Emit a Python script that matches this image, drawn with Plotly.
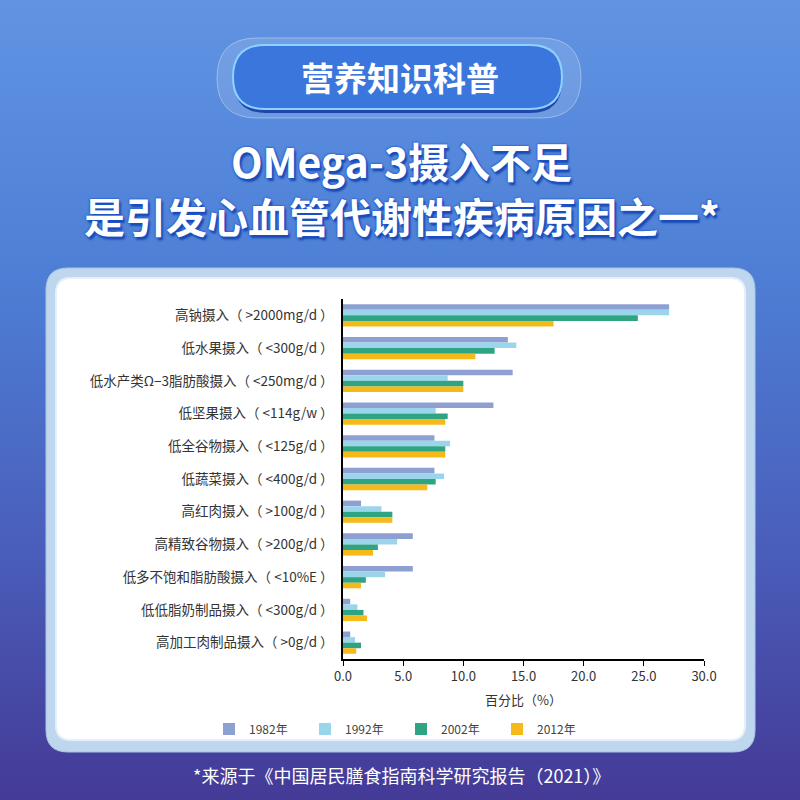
import plotly.graph_objects as go

# ---------------- data ----------------
categories = [
    "高钠摄入（ >2000mg/d ）",
    "低水果摄入（ <300g/d ）",
    "低水产类Ω−3脂肪酸摄入（ <250mg/d ）",
    "低坚果摄入（ <114g/w ）",
    "低全谷物摄入（ <125g/d ）",
    "低蔬菜摄入（ <400g/d ）",
    "高红肉摄入（ >100g/d ）",
    "高精致谷物摄入（ >200g/d ）",
    "低多不饱和脂肪酸摄入（ <10%E ）",
    "低低脂奶制品摄入（ <300g/d ）",
    "高加工肉制品摄入（ >0g/d ）",
]
series_names = ["1982年", "1992年", "2002年", "2012年"]
values_1982 = [27.1, 13.7, 14.1, 12.5, 7.6, 7.6, 1.5, 5.8, 5.8, 0.6, 0.6]
values_1992 = [27.1, 14.4, 8.7, 7.7, 8.9, 8.4, 3.2, 4.5, 3.5, 1.2, 1.0]
values_2002 = [24.5, 12.6, 10.0, 8.7, 8.5, 7.7, 4.1, 2.9, 1.9, 1.7, 1.5]
values_2012 = [17.5, 11.0, 10.0, 8.5, 8.5, 7.0, 4.1, 2.5, 1.5, 2.0, 1.1]
series_values = [values_1982, values_1992, values_2002, values_2012]
series_colors = ["#8EA0D2", "#9BD5EB", "#2EA483", "#F5B919"]
x_ticks = [0, 5, 10, 15, 20, 25, 30]

title_badge = "营养知识科普"
headline_1 = "OMega-3摄入不足"
headline_2 = "是引发心血管代谢性疾病原因之一*"
x_title = "百分比（%）"
footer = "*来源于《中国居民膳食指南科学研究报告（2021）》"

FONT = "Noto Sans CJK SC"
W = H = 800


def px_x(x):
    return x / W


def px_y(y):
    return 1 - y / H


def rrect(x0, y0, x1, y1, r):
    pts = [
        ("M", [(x0 + r, y0)]),
        ("L", [(x1 - r, y0)]),
        ("Q", [(x1, y0), (x1, y0 + r)]),
        ("L", [(x1, y1 - r)]),
        ("Q", [(x1, y1), (x1 - r, y1)]),
        ("L", [(x0 + r, y1)]),
        ("Q", [(x0, y1), (x0, y1 - r)]),
        ("L", [(x0, y0 + r)]),
        ("Q", [(x0, y0), (x0 + r, y0)]),
    ]
    s = ""
    for cmd, ps in pts:
        s += cmd + " " + " ".join(f"{px_x(a):.5f},{px_y(b):.5f}" for a, b in ps) + " "
    return s + "Z"


def lerp(c1, c2, t):
    return tuple(int(round(a + (b - a) * t)) for a, b in zip(c1, c2))


shapes = []
# background gradient (top blue -> bottom purple)
stops = [(0, (96, 148, 226)), (260, (78, 128, 214)), (520, (74, 98, 190)), (800, (68, 58, 150))]
n = 100
for i in range(n):
    y0 = i * H / n
    y1 = (i + 1) * H / n
    ym = (y0 + y1) / 2
    for j in range(len(stops) - 1):
        if stops[j][0] <= ym <= stops[j + 1][0]:
            t = (ym - stops[j][0]) / (stops[j + 1][0] - stops[j][0])
            c = lerp(stops[j][1], stops[j + 1][1], t)
            break
    shapes.append(dict(type="rect", xref="paper", yref="paper", x0=0, x1=1,
                       y0=px_y(y1 + 0.5), y1=px_y(y0), fillcolor=f"rgb{c}",
                       line=dict(width=0), layer="below"))

# title badge
shapes.append(dict(type="path", xref="paper", yref="paper", path=rrect(217, 38, 581, 118, 40),
                   fillcolor="rgba(255,255,255,0.13)", line=dict(color="rgba(255,255,255,0.35)", width=1),
                   layer="below"))
shapes.append(dict(type="path", xref="paper", yref="paper", path=rrect(234, 49, 562, 113, 32),
                   fillcolor="#1F46A8", line=dict(width=0), layer="below"))
shapes.append(dict(type="path", xref="paper", yref="paper", path=rrect(233, 45, 562, 109, 32),
                   fillcolor="#3B76DC", line=dict(color="#8DD3FF", width=2), layer="below"))

# chart card
shapes.append(dict(type="path", xref="paper", yref="paper", path=rrect(46, 268, 755, 752, 22),
                   fillcolor="#BED6EE", line=dict(color="#A9C6E6", width=1), layer="below"))
shapes.append(dict(type="path", xref="paper", yref="paper", path=rrect(55, 277, 746, 741, 16),
                   fillcolor="#E6F0FA", line=dict(width=0), layer="below"))
shapes.append(dict(type="path", xref="paper", yref="paper", path=rrect(57, 279, 744, 739, 14),
                   fillcolor="#FFFFFF", line=dict(width=0), layer="below"))

fig = go.Figure()
for name, vals, col in zip(series_names, series_values, series_colors):
    fig.add_trace(go.Bar(
        y=categories, x=vals, name=name, orientation="h",
        marker=dict(color=col, line=dict(width=0)),
    ))

head_font = dict(family=FONT, size=41, color="white", weight="bold",
                 shadow="0 0 2px #1b55cc, 0 0 2px #1b55cc, 2px 3px 2px #1a4ab5")
annotations = [
    dict(text=title_badge, x=px_x(400), y=px_y(77), xref="paper", yref="paper", showarrow=False,
         font=dict(family=FONT, size=33, color="white", weight="bold"), xanchor="center", yanchor="middle"),
    dict(text=headline_1, x=px_x(401), y=px_y(160), xref="paper", yref="paper", showarrow=False,
         font=head_font, xanchor="center", yanchor="middle"),
    dict(text=headline_2, x=px_x(402), y=px_y(215), xref="paper", yref="paper", showarrow=False,
         font=head_font, xanchor="center", yanchor="middle"),
    dict(text=footer, x=px_x(401), y=px_y(775), xref="paper", yref="paper", showarrow=False,
         font=dict(family=FONT, size=18, color="white"), xanchor="center", yanchor="middle"),
]

fig.update_layout(
    width=W, height=H,
    margin=dict(l=0, r=0, t=0, b=0, pad=0, autoexpand=False),
    paper_bgcolor="rgb(80,110,200)",
    plot_bgcolor="rgba(0,0,0,0)",
    barmode="group", bargap=0.32, bargroupgap=0,
    shapes=shapes,
    annotations=annotations,
    font=dict(family=FONT, color="#333333"),
    showlegend=True,
    legend=dict(orientation="h", x=px_x(209), y=px_y(729), xanchor="left", yanchor="middle",
                entrywidth=51, entrywidthmode="pixels", traceorder="normal", itemwidth=30,
                font=dict(family=FONT, size=12, color="#444444"), bgcolor="rgba(0,0,0,0)"),
    xaxis=dict(domain=[px_x(343), px_x(704)], range=[0, 30], tickvals=x_ticks, tickformat=".1f",
               showline=True, linecolor="black", linewidth=1.5, ticks="outside", ticklen=5,
               tickcolor="black", tickwidth=1.2, showgrid=False, zeroline=False, automargin=False,
               tickfont=dict(family=FONT, size=13, color="#333333"),
               title=dict(text=x_title, font=dict(family=FONT, size=13, color="#333333"), standoff=12),
               fixedrange=True),
    yaxis=dict(domain=[px_y(659), px_y(299)], autorange="reversed", showline=True, linecolor="black",
               linewidth=1.5, ticks="", showgrid=False, zeroline=False, ticklabelstandoff=5,
               automargin=False,
               tickfont=dict(family=FONT, size=13.5, color="#333333"), fixedrange=True),
)

fig.write_html("out.html",
               config={"displayModeBar": False, "responsive": False},
               post_script="document.body.style.margin='0';document.body.style.overflow='hidden';")
